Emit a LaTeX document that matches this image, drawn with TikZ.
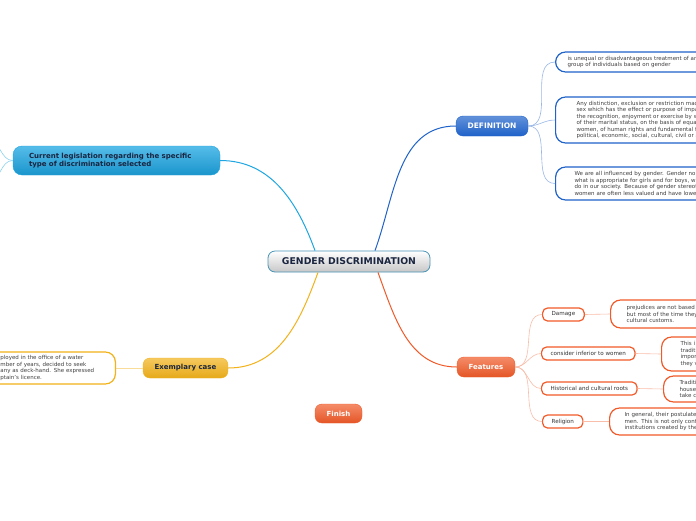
\documentclass[tikz,border=0pt]{standalone}
\usepackage{fontspec}
\setmainfont{DejaVu Sans}
\usetikzlibrary{positioning,calc}
\definecolor{defblue}{HTML}{1F62C9}
\definecolor{legcyan}{HTML}{1DA6E2}
\definecolor{exyellow}{HTML}{F2B21A}
\definecolor{featorange}{HTML}{F05A28}
\definecolor{inkdark}{HTML}{1A2540}
\tikzstyle{topic} = [
    rounded corners=7pt,
    minimum height=20pt,
    font=\fontsize{7}{8.5}\selectfont\bfseries
]
\tikzstyle{leaf} = [
    draw,
    fill=white,
    rounded corners=10pt,
    line width=1.2pt,
    align=left,
    text=black!75,
    font=\fontsize{5.5}{6.5}\selectfont
]
\tikzstyle{cue} = [
    draw=featorange,
    fill=white,
    rounded corners=5pt,
    line width=1.2pt,
    minimum height=13pt,
    inner xsep=9pt,
    text=black!80,
    font=\fontsize{5.6}{6.5}\selectfont
]
\tikzstyle{branch} = [line width=1pt]
\tikzstyle{twig} = [line width=0.6pt]

\begin{document}
\begin{tikzpicture}[x=1pt, y=-1pt]
        \useasboundingbox[fill=white] (0,0) rectangle (696,520);

        % Central topic
        \node[topic, draw=legcyan!55!gray, line width=0.8pt, top color=white, bottom color=black!22,
              minimum width=162pt, minimum height=21pt, text=inkdark, font=\fontsize{9.3}{11}\selectfont\bfseries]
              (gd) at (349,261.5) {GENDER DISCRIMINATION};

        % Main topics
        \node[topic, top color=defblue!70!white, bottom color=defblue, draw=defblue,
              minimum width=72pt, text=white, font=\fontsize{7.5}{9}\selectfont\bfseries]
              (def) at (492,126) {DEFINITION};
        \node[topic, top color=legcyan!75!white, bottom color=legcyan!90!black, draw=legcyan,
              minimum width=207pt, minimum height=29pt, text width=175pt, align=left, inner xsep=16pt,
              text=inkdark, rounded corners=9pt] (leg) at (116.5,160.5)
              {Current legislation regarding the specific\\type of discrimination selected};
        \node[topic, top color=exyellow!70!white, bottom color=exyellow!95!black, draw=exyellow,
              minimum width=85pt, text=inkdark] (ex) at (185.5,368) {Exemplary case};
        \node[topic, top color=featorange!70!white, bottom color=featorange!95!black, draw=featorange,
              minimum width=58pt, text=white] (feat) at (486,367) {Features};
        \node[topic, top color=featorange!70!white, bottom color=featorange!95!black, draw=featorange,
              minimum width=47pt, minimum height=19pt, text=white] (fin) at (338.5,413.5) {Finish};

        % Branches from the central topic
        \draw[branch, defblue] ([xshift=26pt]gd.north) to[out=70, in=180] (def.west);
        \draw[branch, legcyan] ([xshift=-34pt]gd.north) to[out=110, in=0] (leg.east);
        \draw[branch, exyellow] ([xshift=-31pt]gd.south) to[out=-110, in=0] (ex.east);
        \draw[branch, featorange] ([xshift=29pt]gd.south) to[out=-70, in=180] (feat.west);

        % Definition
        \node[leaf, draw=defblue, anchor=west, minimum height=20pt, text width=200pt, inner xsep=12pt]
              (d1) at (555,62)
              {is unequal or disadvantageous treatment of an\\group of individuals based on gender};
        \node[leaf, draw=defblue, anchor=west, minimum height=46pt, text width=200pt, inner xsep=21pt]
              (d2) at (555,120)
              {Any distinction, exclusion or restriction mad\\sex which has the effect or purpose of impa\\the recognition, enjoyment or exercise by w\\of their marital status, on the basis of equa\\women, of human rights and fundamental f\\political, economic, social, cultural, civil or a};
        \node[leaf, draw=defblue, anchor=west, minimum height=33pt, text width=200pt, inner xsep=19pt]
              (d3) at (555,183.5)
              {We are all influenced by gender. Gender nor\\what is appropriate for girls and for boys, w\\do in our society. Because of gender stereot\\women are often less valued and have lowe};
        \foreach \d in {d1,d2,d3} {
            \draw[twig, defblue!45] (def.east) to[out=0, in=180] (\d.west);
        }

        % Current legislation (children off the page)
        \coordinate (l1) at (-12,140);
        \coordinate (l2) at (-12,182);
        \draw[twig, legcyan!50] (leg.west) to[out=180, in=0] (l1);
        \draw[twig, legcyan!50] (leg.west) to[out=180, in=0] (l2);

        % Exemplary case
        \node[leaf, draw=exyellow, anchor=east, minimum height=32pt, text width=95pt, inner xsep=20pt]
              (case) at (116,368)
              {ployed in the office of a water\\mber of years, decided to seek\\any as deck-hand. She expressed\\ptain's licence.};
        \draw[twig, exyellow!45] (ex.west) -- (case.east);

        % Features
        \node[cue, anchor=west] (dmg) at (542,314.5) {Damage};
        \node[cue, anchor=west] (inf) at (541,353.5) {consider inferior to women};
        \node[cue, anchor=west] (roots) at (541,388.5) {Historical and cultural roots};
        \node[cue, anchor=west] (rel) at (542,421.5) {Religion};
        \foreach \c in {dmg,inf,roots,rel} {
            \draw[twig, featorange!40] (feat.east) to[out=0, in=180] (\c.west);
        }

        \node[leaf, draw=featorange, anchor=west, minimum height=28pt, text width=120pt, inner xsep=16pt]
              (dmgtext) at (610,314)
              {prejudices are not based\\but most of the time they\\cultural customs.};
        \node[leaf, draw=featorange, anchor=west, minimum height=34pt, text width=120pt, inner xsep=19pt]
              (inftext) at (661,354)
              {This i\\traditi\\import\\they v};
        \node[leaf, draw=featorange, anchor=west, minimum height=26pt, text width=120pt, inner xsep=16pt]
              (rootstext) at (663,389)
              {Traditi\\house,\\take c};
        \node[leaf, draw=featorange, anchor=west, minimum height=27pt, text width=120pt, inner xsep=15pt]
              (reltext) at (609,421.5)
              {In general, their postulate\\men. This is not only cont\\institutions created by the};
        \draw[twig, featorange!40] (dmg.east) -- (dmgtext.west);
        \draw[twig, featorange!40] (inf.east) -- (inftext.west);
        \draw[twig, featorange!40] (roots.east) -- (rootstext.west);
        \draw[twig, featorange!40] (rel.east) -- (reltext.west);
    \end{tikzpicture}
\end{document}
